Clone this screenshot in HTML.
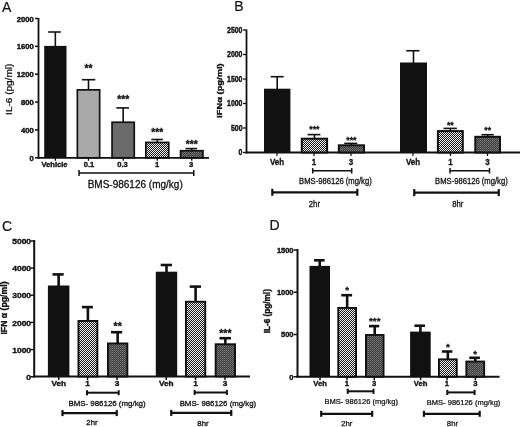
<!DOCTYPE html>
<html><head><meta charset="utf-8"><title>Figure</title>
<style>
html,body{margin:0;padding:0;background:#fff;}
body{width:520px;height:427px;overflow:hidden;}
svg{display:block;will-change:transform;}
svg text{font-family:"Liberation Sans",sans-serif;fill:#111;}
</style></head>
<body>
<svg width="520" height="427" viewBox="0 0 520 427">
<defs>
<pattern id="ch" width="2" height="2" patternUnits="userSpaceOnUse" shape-rendering="crispEdges">
<rect width="2" height="2" fill="#161616"/>
<rect width="1" height="1" fill="#f6f6f6"/>
<rect x="1" y="1" width="1" height="1" fill="#f6f6f6"/>
</pattern>
<pattern id="fn" width="2" height="2" patternUnits="userSpaceOnUse" shape-rendering="crispEdges">
<rect width="2" height="2" fill="#3e3e3e"/>
<rect width="1" height="1" fill="#7a7a7a"/>
<rect x="1" y="1" width="1" height="1" fill="#646464"/>
</pattern>
</defs>
<rect width="520" height="427" fill="#fff"/>
<text x="2" y="11.5" font-size="14" font-weight="normal" text-anchor="start" stroke="#111" stroke-width="0.2" stroke-linejoin="round">A</text>
<line x1="38.5" y1="18" x2="38.5" y2="158.70000000000002" stroke="#111" stroke-width="1.8"/>
<line x1="37.6" y1="157.8" x2="209" y2="157.8" stroke="#111" stroke-width="1.8"/>
<line x1="35.0" y1="18.5" x2="38.5" y2="18.5" stroke="#111" stroke-width="1.5"/>
<text x="0" y="0" font-size="7.1" font-weight="bold" text-anchor="end" transform="translate(33.7 21.5) scale(1.08 1)" stroke="#111" stroke-width="0.4" stroke-linejoin="round">2000</text>
<line x1="35.0" y1="46.36" x2="38.5" y2="46.36" stroke="#111" stroke-width="1.5"/>
<text x="0" y="0" font-size="7.1" font-weight="bold" text-anchor="end" transform="translate(33.7 49.36) scale(1.08 1)" stroke="#111" stroke-width="0.4" stroke-linejoin="round">1600</text>
<line x1="35.0" y1="74.22" x2="38.5" y2="74.22" stroke="#111" stroke-width="1.5"/>
<text x="0" y="0" font-size="7.1" font-weight="bold" text-anchor="end" transform="translate(33.7 77.22) scale(1.08 1)" stroke="#111" stroke-width="0.4" stroke-linejoin="round">1200</text>
<line x1="35.0" y1="102.08000000000001" x2="38.5" y2="102.08000000000001" stroke="#111" stroke-width="1.5"/>
<text x="0" y="0" font-size="7.1" font-weight="bold" text-anchor="end" transform="translate(33.7 105.08000000000001) scale(1.08 1)" stroke="#111" stroke-width="0.4" stroke-linejoin="round">800</text>
<line x1="35.0" y1="129.94" x2="38.5" y2="129.94" stroke="#111" stroke-width="1.5"/>
<text x="0" y="0" font-size="7.1" font-weight="bold" text-anchor="end" transform="translate(33.7 132.94) scale(1.08 1)" stroke="#111" stroke-width="0.4" stroke-linejoin="round">400</text>
<line x1="35.0" y1="157.8" x2="38.5" y2="157.8" stroke="#111" stroke-width="1.5"/>
<text x="0" y="0" font-size="7.1" font-weight="bold" text-anchor="end" transform="translate(33.7 160.8) scale(1.08 1)" stroke="#111" stroke-width="0.4" stroke-linejoin="round">0</text>
<text x="0" y="0" font-size="9.2" font-weight="normal" text-anchor="middle" transform="translate(12.0 89.3) rotate(-90) scale(1.09 1)" stroke="#111" stroke-width="0.25" stroke-linejoin="round">IL-6 (pg/ml)</text>
<line x1="55.35" y1="32" x2="55.35" y2="46.9" stroke="#111" stroke-width="1.6"/>
<line x1="48.2" y1="32" x2="60.8" y2="32" stroke="#111" stroke-width="1.6"/>
<rect x="44.20" y="45.90" width="22.30" height="111.90" fill="#111"/>
<line x1="55.35" y1="157.8" x2="55.35" y2="160.8" stroke="#111" stroke-width="1.3"/>
<line x1="88.5" y1="79.7" x2="88.5" y2="90" stroke="#111" stroke-width="1.6"/>
<line x1="81.8" y1="79.7" x2="95.3" y2="79.7" stroke="#111" stroke-width="1.6"/>
<rect x="77.35" y="89.85" width="22.30" height="67.95" fill="#a9a9a9" stroke="#111" stroke-width="1.7"/>
<text x="88.5" y="71.6075" font-size="10.3" font-weight="bold" text-anchor="middle" stroke="#111" stroke-width="0.3" stroke-linejoin="round">**</text>
<line x1="88.5" y1="157.8" x2="88.5" y2="160.8" stroke="#111" stroke-width="1.3"/>
<line x1="123.15" y1="107.9" x2="123.15" y2="122.4" stroke="#111" stroke-width="1.6"/>
<line x1="116.3" y1="107.9" x2="129" y2="107.9" stroke="#111" stroke-width="1.6"/>
<rect x="112.05" y="122.25" width="22.20" height="35.55" fill="#6b6b6b" stroke="#111" stroke-width="1.7"/>
<text x="123.15" y="102.9075" font-size="10.3" font-weight="bold" text-anchor="middle" stroke="#111" stroke-width="0.3" stroke-linejoin="round">***</text>
<line x1="123.15" y1="157.8" x2="123.15" y2="160.8" stroke="#111" stroke-width="1.3"/>
<line x1="157.3" y1="139.5" x2="157.3" y2="142.6" stroke="#111" stroke-width="1.6"/>
<line x1="151.3" y1="139.5" x2="162.8" y2="139.5" stroke="#111" stroke-width="1.6"/>
<rect x="145.85" y="142.45" width="22.90" height="15.35" fill="url(#ch)" stroke="#111" stroke-width="1.7"/>
<text x="157.3" y="136.2075" font-size="10.3" font-weight="bold" text-anchor="middle" stroke="#111" stroke-width="0.3" stroke-linejoin="round">***</text>
<line x1="157.3" y1="157.8" x2="157.3" y2="160.8" stroke="#111" stroke-width="1.3"/>
<line x1="191.75" y1="148.6" x2="191.75" y2="150.9" stroke="#111" stroke-width="1.6"/>
<line x1="185.5" y1="148.6" x2="197" y2="148.6" stroke="#111" stroke-width="1.6"/>
<rect x="180.55" y="150.75" width="22.40" height="7.05" fill="url(#fn)" stroke="#111" stroke-width="1.7"/>
<text x="191.75" y="148.1075" font-size="10.3" font-weight="bold" text-anchor="middle" stroke="#111" stroke-width="0.3" stroke-linejoin="round">***</text>
<line x1="191.75" y1="157.8" x2="191.75" y2="160.8" stroke="#111" stroke-width="1.3"/>
<text x="54.5" y="167.4" font-size="7.6" font-weight="bold" text-anchor="middle" stroke="#111" stroke-width="0.35" stroke-linejoin="round">Vehicle</text>
<text x="89" y="167.4" font-size="7.6" font-weight="bold" text-anchor="middle" stroke="#111" stroke-width="0.35" stroke-linejoin="round">0.1</text>
<text x="122.5" y="167.4" font-size="7.6" font-weight="bold" text-anchor="middle" stroke="#111" stroke-width="0.35" stroke-linejoin="round">0.3</text>
<text x="157" y="167.4" font-size="7.6" font-weight="bold" text-anchor="middle" stroke="#111" stroke-width="0.35" stroke-linejoin="round">1</text>
<text x="191" y="167.4" font-size="7.6" font-weight="bold" text-anchor="middle" stroke="#111" stroke-width="0.35" stroke-linejoin="round">3</text>
<line x1="79" y1="173.1" x2="193.75" y2="173.1" stroke="#111" stroke-width="1.5"/>
<line x1="79" y1="170.1" x2="79" y2="176.1" stroke="#111" stroke-width="1.5"/>
<line x1="193.75" y1="170.1" x2="193.75" y2="176.1" stroke="#111" stroke-width="1.5"/>
<text x="135.2" y="187.6" font-size="10" font-weight="normal" text-anchor="middle" stroke="#111" stroke-width="0.3" stroke-linejoin="round">BMS-986126 (mg/kg)</text>
<text x="234.3" y="10.8" font-size="14" font-weight="normal" text-anchor="start" stroke="#111" stroke-width="0.2" stroke-linejoin="round">B</text>
<line x1="246.5" y1="29.5" x2="246.5" y2="153.4" stroke="#111" stroke-width="1.8"/>
<line x1="245.6" y1="152.5" x2="520" y2="152.5" stroke="#111" stroke-width="1.8"/>
<line x1="243.0" y1="30.0" x2="246.5" y2="30.0" stroke="#111" stroke-width="1.3"/>
<text x="0" y="0" font-size="8.2" font-weight="bold" text-anchor="end" transform="translate(242.5 32.9) scale(0.85 1)" stroke="#111" stroke-width="0.4" stroke-linejoin="round">2500</text>
<line x1="243.0" y1="54.5" x2="246.5" y2="54.5" stroke="#111" stroke-width="1.3"/>
<text x="0" y="0" font-size="8.2" font-weight="bold" text-anchor="end" transform="translate(242.5 57.4) scale(0.85 1)" stroke="#111" stroke-width="0.4" stroke-linejoin="round">2000</text>
<line x1="243.0" y1="79.0" x2="246.5" y2="79.0" stroke="#111" stroke-width="1.3"/>
<text x="0" y="0" font-size="8.2" font-weight="bold" text-anchor="end" transform="translate(242.5 81.9) scale(0.85 1)" stroke="#111" stroke-width="0.4" stroke-linejoin="round">1500</text>
<line x1="243.0" y1="103.5" x2="246.5" y2="103.5" stroke="#111" stroke-width="1.3"/>
<text x="0" y="0" font-size="8.2" font-weight="bold" text-anchor="end" transform="translate(242.5 106.4) scale(0.85 1)" stroke="#111" stroke-width="0.4" stroke-linejoin="round">1000</text>
<line x1="243.0" y1="128.0" x2="246.5" y2="128.0" stroke="#111" stroke-width="1.3"/>
<text x="0" y="0" font-size="8.2" font-weight="bold" text-anchor="end" transform="translate(242.5 130.9) scale(0.85 1)" stroke="#111" stroke-width="0.4" stroke-linejoin="round">500</text>
<line x1="243.0" y1="152.5" x2="246.5" y2="152.5" stroke="#111" stroke-width="1.3"/>
<text x="0" y="0" font-size="8.2" font-weight="bold" text-anchor="end" transform="translate(242.5 155.4) scale(0.85 1)" stroke="#111" stroke-width="0.4" stroke-linejoin="round">0</text>
<text x="0" y="0" font-size="7.8" font-weight="bold" text-anchor="middle" transform="translate(222.2 90.6) rotate(-90) scale(1.2 1)" stroke="#111" stroke-width="0.35" stroke-linejoin="round">IFN&#945; (pg/ml)</text>
<line x1="277.2" y1="76.7" x2="277.2" y2="89.7" stroke="#111" stroke-width="1.6"/>
<line x1="270.7" y1="76.7" x2="283.7" y2="76.7" stroke="#111" stroke-width="1.6"/>
<rect x="264.00" y="88.70" width="26.40" height="63.80" fill="#111"/>
<line x1="314.45000000000005" y1="134.6" x2="314.45000000000005" y2="138.7" stroke="#111" stroke-width="1.6"/>
<line x1="307.6" y1="134.6" x2="320.4" y2="134.6" stroke="#111" stroke-width="1.6"/>
<rect x="301.80" y="138.70" width="25.30" height="13.80" fill="url(#ch)" stroke="#111" stroke-width="2"/>
<text x="314.45000000000005" y="132.2675" font-size="8.7" font-weight="bold" text-anchor="middle" stroke="#111" stroke-width="0.3" stroke-linejoin="round">***</text>
<line x1="351.4" y1="143.4" x2="351.4" y2="145.3" stroke="#111" stroke-width="1.6"/>
<line x1="344.2" y1="143.4" x2="357.3" y2="143.4" stroke="#111" stroke-width="1.6"/>
<rect x="338.80" y="145.30" width="25.20" height="7.20" fill="url(#fn)" stroke="#111" stroke-width="2"/>
<text x="351.4" y="143.0675" font-size="8.7" font-weight="bold" text-anchor="middle" stroke="#111" stroke-width="0.3" stroke-linejoin="round">***</text>
<line x1="413.5" y1="50.75" x2="413.5" y2="63.5" stroke="#111" stroke-width="1.6"/>
<line x1="406.25" y1="50.75" x2="419.5" y2="50.75" stroke="#111" stroke-width="1.6"/>
<rect x="400.00" y="62.50" width="27.00" height="90.00" fill="#111"/>
<line x1="450.35" y1="128.4" x2="450.35" y2="131.1" stroke="#111" stroke-width="1.6"/>
<line x1="443.5" y1="128.4" x2="456.9" y2="128.4" stroke="#111" stroke-width="1.6"/>
<rect x="437.90" y="131.10" width="24.90" height="21.40" fill="url(#ch)" stroke="#111" stroke-width="2"/>
<text x="450.35" y="128.4675" font-size="8.7" font-weight="bold" text-anchor="middle" stroke="#111" stroke-width="0.3" stroke-linejoin="round">**</text>
<line x1="487.65" y1="134.7" x2="487.65" y2="136.8" stroke="#111" stroke-width="1.6"/>
<line x1="481.5" y1="134.7" x2="493.8" y2="134.7" stroke="#111" stroke-width="1.6"/>
<rect x="475.30" y="136.80" width="24.70" height="15.70" fill="url(#fn)" stroke="#111" stroke-width="2"/>
<text x="487.65" y="132.5675" font-size="8.7" font-weight="bold" text-anchor="middle" stroke="#111" stroke-width="0.3" stroke-linejoin="round">**</text>
<line x1="277" y1="152.5" x2="277" y2="156.0" stroke="#111" stroke-width="1.2"/>
<text x="0" y="0" font-size="9" font-weight="bold" text-anchor="middle" transform="translate(277 164.5) scale(0.89 1)" stroke="#111" stroke-width="0.3" stroke-linejoin="round">Veh</text>
<line x1="314" y1="152.5" x2="314" y2="156.0" stroke="#111" stroke-width="1.2"/>
<text x="0" y="0" font-size="9" font-weight="bold" text-anchor="middle" transform="translate(314 164.5) scale(0.89 1)" stroke="#111" stroke-width="0.3" stroke-linejoin="round">1</text>
<line x1="351" y1="152.5" x2="351" y2="156.0" stroke="#111" stroke-width="1.2"/>
<text x="0" y="0" font-size="9" font-weight="bold" text-anchor="middle" transform="translate(351 164.5) scale(0.89 1)" stroke="#111" stroke-width="0.3" stroke-linejoin="round">3</text>
<line x1="413" y1="152.5" x2="413" y2="156.0" stroke="#111" stroke-width="1.2"/>
<text x="0" y="0" font-size="9" font-weight="bold" text-anchor="middle" transform="translate(413 164.5) scale(0.89 1)" stroke="#111" stroke-width="0.3" stroke-linejoin="round">Veh</text>
<line x1="450.5" y1="152.5" x2="450.5" y2="156.0" stroke="#111" stroke-width="1.2"/>
<text x="0" y="0" font-size="9" font-weight="bold" text-anchor="middle" transform="translate(450.5 164.5) scale(0.89 1)" stroke="#111" stroke-width="0.3" stroke-linejoin="round">1</text>
<line x1="487.5" y1="152.5" x2="487.5" y2="156.0" stroke="#111" stroke-width="1.2"/>
<text x="0" y="0" font-size="9" font-weight="bold" text-anchor="middle" transform="translate(487.5 164.5) scale(0.89 1)" stroke="#111" stroke-width="0.3" stroke-linejoin="round">3</text>
<line x1="312.7" y1="170.8" x2="351.7" y2="170.8" stroke="#111" stroke-width="1.5"/>
<line x1="312.7" y1="168.10000000000002" x2="312.7" y2="173.5" stroke="#111" stroke-width="1.5"/>
<line x1="351.7" y1="168.10000000000002" x2="351.7" y2="173.5" stroke="#111" stroke-width="1.5"/>
<line x1="450" y1="170.8" x2="489.5" y2="170.8" stroke="#111" stroke-width="1.5"/>
<line x1="450" y1="168.10000000000002" x2="450" y2="173.5" stroke="#111" stroke-width="1.5"/>
<line x1="489.5" y1="168.10000000000002" x2="489.5" y2="173.5" stroke="#111" stroke-width="1.5"/>
<text x="0" y="0" font-size="8.6" font-weight="normal" text-anchor="middle" transform="translate(335.4 183.5) scale(0.89 1)" stroke="#111" stroke-width="0.3" stroke-linejoin="round">BMS-986126 (mg/kg)</text>
<text x="0" y="0" font-size="8.6" font-weight="normal" text-anchor="middle" transform="translate(471.4 183.5) scale(0.89 1)" stroke="#111" stroke-width="0.3" stroke-linejoin="round">BMS-986126 (mg/kg)</text>
<line x1="272.3" y1="192.3" x2="357.3" y2="192.3" stroke="#111" stroke-width="2.2"/>
<line x1="272.3" y1="188.8" x2="272.3" y2="195.8" stroke="#111" stroke-width="2.2"/>
<line x1="357.3" y1="188.8" x2="357.3" y2="195.8" stroke="#111" stroke-width="2.2"/>
<line x1="414.25" y1="192.6" x2="498.75" y2="192.6" stroke="#111" stroke-width="2.2"/>
<line x1="414.25" y1="189.1" x2="414.25" y2="196.1" stroke="#111" stroke-width="2.2"/>
<line x1="498.75" y1="189.1" x2="498.75" y2="196.1" stroke="#111" stroke-width="2.2"/>
<text x="0" y="0" font-size="8.6" font-weight="normal" text-anchor="middle" transform="translate(314.4 207.2) scale(0.9 1)" stroke="#111" stroke-width="0.3" stroke-linejoin="round">2hr</text>
<text x="0" y="0" font-size="8.6" font-weight="normal" text-anchor="middle" transform="translate(457.8 207.4) scale(0.9 1)" stroke="#111" stroke-width="0.3" stroke-linejoin="round">8hr</text>
<text x="2" y="231" font-size="14" font-weight="normal" text-anchor="start" stroke="#111" stroke-width="0.2" stroke-linejoin="round">C</text>
<line x1="34.2" y1="240" x2="34.2" y2="377.5" stroke="#111" stroke-width="2"/>
<line x1="33.2" y1="376.5" x2="250" y2="376.5" stroke="#111" stroke-width="2"/>
<line x1="30.200000000000003" y1="241.0" x2="34.2" y2="241.0" stroke="#111" stroke-width="1.5"/>
<text x="0" y="0" font-size="7.6" font-weight="bold" text-anchor="end" transform="translate(31.1 244.1) scale(1.12 1)" stroke="#111" stroke-width="0.35" stroke-linejoin="round">5000</text>
<line x1="30.200000000000003" y1="268.15" x2="34.2" y2="268.15" stroke="#111" stroke-width="1.5"/>
<text x="0" y="0" font-size="7.6" font-weight="bold" text-anchor="end" transform="translate(31.1 271.25) scale(1.12 1)" stroke="#111" stroke-width="0.35" stroke-linejoin="round">4000</text>
<line x1="30.200000000000003" y1="295.3" x2="34.2" y2="295.3" stroke="#111" stroke-width="1.5"/>
<text x="0" y="0" font-size="7.6" font-weight="bold" text-anchor="end" transform="translate(31.1 298.40000000000003) scale(1.12 1)" stroke="#111" stroke-width="0.35" stroke-linejoin="round">3000</text>
<line x1="30.200000000000003" y1="322.45" x2="34.2" y2="322.45" stroke="#111" stroke-width="1.5"/>
<text x="0" y="0" font-size="7.6" font-weight="bold" text-anchor="end" transform="translate(31.1 325.55) scale(1.12 1)" stroke="#111" stroke-width="0.35" stroke-linejoin="round">2000</text>
<line x1="30.200000000000003" y1="349.6" x2="34.2" y2="349.6" stroke="#111" stroke-width="1.5"/>
<text x="0" y="0" font-size="7.6" font-weight="bold" text-anchor="end" transform="translate(31.1 352.70000000000005) scale(1.12 1)" stroke="#111" stroke-width="0.35" stroke-linejoin="round">1000</text>
<line x1="30.200000000000003" y1="376.75" x2="34.2" y2="376.75" stroke="#111" stroke-width="1.5"/>
<text x="0" y="0" font-size="7.6" font-weight="bold" text-anchor="end" transform="translate(31.1 379.85) scale(1.12 1)" stroke="#111" stroke-width="0.35" stroke-linejoin="round">0</text>
<text x="0" y="0" font-size="8.7" font-weight="bold" text-anchor="middle" transform="translate(6.6 308) rotate(-90)" stroke="#111" stroke-width="0.35" stroke-linejoin="round">IFN &#945; (pg/ml)</text>
<line x1="58.650000000000006" y1="274.4" x2="58.650000000000006" y2="286.5" stroke="#111" stroke-width="2.6"/>
<line x1="52.5" y1="274.4" x2="63.7" y2="274.4" stroke="#111" stroke-width="2.6"/>
<rect x="47.90" y="285.50" width="21.50" height="91.00" fill="#111"/>
<line x1="87.9" y1="307.1" x2="87.9" y2="321" stroke="#111" stroke-width="2.6"/>
<line x1="81.9" y1="307.1" x2="92.9" y2="307.1" stroke="#111" stroke-width="2.6"/>
<rect x="78.45" y="320.95" width="18.90" height="55.55" fill="url(#ch)" stroke="#111" stroke-width="1.9"/>
<line x1="117.65" y1="332.2" x2="117.65" y2="343.5" stroke="#111" stroke-width="2.6"/>
<line x1="111" y1="332.2" x2="122.2" y2="332.2" stroke="#111" stroke-width="2.6"/>
<rect x="107.95" y="343.45" width="19.40" height="33.05" fill="url(#fn)" stroke="#111" stroke-width="1.9"/>
<text x="117.65" y="330.2125" font-size="10.5" font-weight="bold" text-anchor="middle" stroke="#111" stroke-width="0.3" stroke-linejoin="round">**</text>
<line x1="166.5" y1="265" x2="166.5" y2="272.7" stroke="#111" stroke-width="2.6"/>
<line x1="160.7" y1="265" x2="172" y2="265" stroke="#111" stroke-width="2.6"/>
<rect x="155.80" y="271.70" width="21.40" height="104.80" fill="#111"/>
<line x1="195.6" y1="286.6" x2="195.6" y2="301.8" stroke="#111" stroke-width="2.6"/>
<line x1="189.7" y1="286.6" x2="201" y2="286.6" stroke="#111" stroke-width="2.6"/>
<rect x="185.95" y="301.75" width="19.30" height="74.75" fill="url(#ch)" stroke="#111" stroke-width="1.9"/>
<line x1="225.35" y1="338.2" x2="225.35" y2="344.3" stroke="#111" stroke-width="2.6"/>
<line x1="219.5" y1="338.2" x2="231" y2="338.2" stroke="#111" stroke-width="2.6"/>
<rect x="215.65" y="344.25" width="19.40" height="32.25" fill="url(#fn)" stroke="#111" stroke-width="1.9"/>
<text x="225.35" y="337.3125" font-size="10.5" font-weight="bold" text-anchor="middle" stroke="#111" stroke-width="0.3" stroke-linejoin="round">***</text>
<line x1="58.75" y1="376.5" x2="58.75" y2="380.0" stroke="#111" stroke-width="1.5"/>
<text x="0" y="0" font-size="7.8" font-weight="bold" text-anchor="middle" transform="translate(58.75 386.2) scale(1.06 1)" stroke="#111" stroke-width="0.35" stroke-linejoin="round">Veh</text>
<line x1="87.5" y1="376.5" x2="87.5" y2="380.0" stroke="#111" stroke-width="1.5"/>
<text x="0" y="0" font-size="7.8" font-weight="bold" text-anchor="middle" transform="translate(87.5 386.2) scale(1.06 1)" stroke="#111" stroke-width="0.35" stroke-linejoin="round">1</text>
<line x1="117" y1="376.5" x2="117" y2="380.0" stroke="#111" stroke-width="1.5"/>
<text x="0" y="0" font-size="7.8" font-weight="bold" text-anchor="middle" transform="translate(117 386.2) scale(1.06 1)" stroke="#111" stroke-width="0.35" stroke-linejoin="round">3</text>
<line x1="166.25" y1="376.5" x2="166.25" y2="380.0" stroke="#111" stroke-width="1.5"/>
<text x="0" y="0" font-size="7.8" font-weight="bold" text-anchor="middle" transform="translate(166.25 386.2) scale(1.06 1)" stroke="#111" stroke-width="0.35" stroke-linejoin="round">Veh</text>
<line x1="195.5" y1="376.5" x2="195.5" y2="380.0" stroke="#111" stroke-width="1.5"/>
<text x="0" y="0" font-size="7.8" font-weight="bold" text-anchor="middle" transform="translate(195.5 386.2) scale(1.06 1)" stroke="#111" stroke-width="0.35" stroke-linejoin="round">1</text>
<line x1="225" y1="376.5" x2="225" y2="380.0" stroke="#111" stroke-width="1.5"/>
<text x="0" y="0" font-size="7.8" font-weight="bold" text-anchor="middle" transform="translate(225 386.2) scale(1.06 1)" stroke="#111" stroke-width="0.35" stroke-linejoin="round">3</text>
<line x1="87" y1="392.7" x2="118.7" y2="392.7" stroke="#111" stroke-width="2.0"/>
<line x1="87" y1="390.2" x2="87" y2="395.2" stroke="#111" stroke-width="2.0"/>
<line x1="118.7" y1="390.2" x2="118.7" y2="395.2" stroke="#111" stroke-width="2.0"/>
<line x1="194.6" y1="392.4" x2="226.9" y2="392.4" stroke="#111" stroke-width="2.0"/>
<line x1="194.6" y1="389.9" x2="194.6" y2="394.9" stroke="#111" stroke-width="2.0"/>
<line x1="226.9" y1="389.9" x2="226.9" y2="394.9" stroke="#111" stroke-width="2.0"/>
<text x="107" y="405.9" font-size="7.9" font-weight="normal" text-anchor="middle" stroke="#111" stroke-width="0.3" stroke-linejoin="round">BMS- 986126 (mg/kg)</text>
<text x="0" y="0" font-size="7.9" font-weight="normal" text-anchor="middle" transform="translate(217.9 406) scale(0.99 1)" stroke="#111" stroke-width="0.3" stroke-linejoin="round">BMS- 986126 (mg/kg)</text>
<line x1="62.5" y1="413.1" x2="116.75" y2="413.1" stroke="#111" stroke-width="2.2"/>
<line x1="62.5" y1="410.1" x2="62.5" y2="416.1" stroke="#111" stroke-width="2.2"/>
<line x1="116.75" y1="410.1" x2="116.75" y2="416.1" stroke="#111" stroke-width="2.2"/>
<line x1="171.25" y1="412.9" x2="231.25" y2="412.9" stroke="#111" stroke-width="2.2"/>
<line x1="171.25" y1="409.9" x2="171.25" y2="415.9" stroke="#111" stroke-width="2.2"/>
<line x1="231.25" y1="409.9" x2="231.25" y2="415.9" stroke="#111" stroke-width="2.2"/>
<text x="92" y="425.3" font-size="7.8" font-weight="normal" text-anchor="middle" stroke="#111" stroke-width="0.3" stroke-linejoin="round">2hr</text>
<text x="203" y="425.8" font-size="7.8" font-weight="normal" text-anchor="middle" stroke="#111" stroke-width="0.3" stroke-linejoin="round">8hr</text>
<text x="269.6" y="230.2" font-size="14" font-weight="normal" text-anchor="start" stroke="#111" stroke-width="0.2" stroke-linejoin="round">D</text>
<line x1="297.5" y1="249" x2="297.5" y2="377.75" stroke="#111" stroke-width="2"/>
<line x1="296.5" y1="376.75" x2="499.5" y2="376.75" stroke="#111" stroke-width="2"/>
<line x1="293.5" y1="250.0" x2="297.5" y2="250.0" stroke="#111" stroke-width="1.5"/>
<text x="0" y="0" font-size="7.8" font-weight="bold" text-anchor="end" transform="translate(293.5 252.9) scale(0.96 1)" stroke="#111" stroke-width="0.4" stroke-linejoin="round">1500</text>
<line x1="293.5" y1="292.25" x2="297.5" y2="292.25" stroke="#111" stroke-width="1.5"/>
<text x="0" y="0" font-size="7.8" font-weight="bold" text-anchor="end" transform="translate(293.5 295.15) scale(0.96 1)" stroke="#111" stroke-width="0.4" stroke-linejoin="round">1000</text>
<line x1="293.5" y1="334.5" x2="297.5" y2="334.5" stroke="#111" stroke-width="1.5"/>
<text x="0" y="0" font-size="7.8" font-weight="bold" text-anchor="end" transform="translate(293.5 337.4) scale(0.96 1)" stroke="#111" stroke-width="0.4" stroke-linejoin="round">500</text>
<line x1="293.5" y1="376.75" x2="297.5" y2="376.75" stroke="#111" stroke-width="1.5"/>
<text x="0" y="0" font-size="7.8" font-weight="bold" text-anchor="end" transform="translate(293.5 379.65) scale(0.96 1)" stroke="#111" stroke-width="0.4" stroke-linejoin="round">0</text>
<text x="0" y="0" font-size="8.2" font-weight="bold" text-anchor="middle" transform="translate(269.5 311.2) rotate(-90)" stroke="#111" stroke-width="0.35" stroke-linejoin="round">IL-6 (pg/ml)</text>
<line x1="319.75" y1="260.3" x2="319.75" y2="266.9" stroke="#111" stroke-width="2.6"/>
<line x1="314" y1="260.3" x2="324.6" y2="260.3" stroke="#111" stroke-width="2.6"/>
<rect x="309.50" y="265.90" width="20.50" height="110.85" fill="#111"/>
<line x1="347.15" y1="295.2" x2="347.15" y2="308" stroke="#111" stroke-width="2.6"/>
<line x1="341.25" y1="295.2" x2="352.1" y2="295.2" stroke="#111" stroke-width="2.6"/>
<rect x="338.25" y="307.95" width="17.80" height="68.80" fill="url(#ch)" stroke="#111" stroke-width="1.9"/>
<text x="347.15" y="293.34499999999997" font-size="9.8" font-weight="bold" text-anchor="middle" stroke="#111" stroke-width="0.3" stroke-linejoin="round">*</text>
<line x1="374.75" y1="326.1" x2="374.75" y2="335" stroke="#111" stroke-width="2.6"/>
<line x1="369" y1="326.1" x2="379.2" y2="326.1" stroke="#111" stroke-width="2.6"/>
<rect x="365.95" y="334.95" width="17.60" height="41.80" fill="url(#fn)" stroke="#111" stroke-width="1.9"/>
<text x="374.75" y="324.245" font-size="9.8" font-weight="bold" text-anchor="middle" stroke="#111" stroke-width="0.3" stroke-linejoin="round">***</text>
<line x1="420.4" y1="325.7" x2="420.4" y2="332.6" stroke="#111" stroke-width="2.6"/>
<line x1="414.4" y1="325.7" x2="425" y2="325.7" stroke="#111" stroke-width="2.6"/>
<rect x="410.10" y="331.60" width="20.60" height="45.15" fill="#111"/>
<line x1="447.85" y1="351.5" x2="447.85" y2="359.4" stroke="#111" stroke-width="2.6"/>
<line x1="441.9" y1="351.5" x2="452.4" y2="351.5" stroke="#111" stroke-width="2.6"/>
<rect x="438.95" y="359.35" width="17.80" height="17.40" fill="url(#ch)" stroke="#111" stroke-width="1.9"/>
<text x="447.85" y="349.54499999999996" font-size="9.8" font-weight="bold" text-anchor="middle" stroke="#111" stroke-width="0.3" stroke-linejoin="round">*</text>
<line x1="475.25" y1="357.8" x2="475.25" y2="361.6" stroke="#111" stroke-width="2.6"/>
<line x1="469.3" y1="357.8" x2="479.9" y2="357.8" stroke="#111" stroke-width="2.6"/>
<rect x="466.35" y="361.55" width="17.80" height="15.20" fill="url(#fn)" stroke="#111" stroke-width="1.9"/>
<text x="475.25" y="357.145" font-size="9.8" font-weight="bold" text-anchor="middle" stroke="#111" stroke-width="0.3" stroke-linejoin="round">*</text>
<line x1="320" y1="376.75" x2="320" y2="380.25" stroke="#111" stroke-width="1.5"/>
<text x="0" y="0" font-size="7.5" font-weight="bold" text-anchor="middle" transform="translate(320 385.7) scale(1.02 1)" stroke="#111" stroke-width="0.35" stroke-linejoin="round">Veh</text>
<line x1="347" y1="376.75" x2="347" y2="380.25" stroke="#111" stroke-width="1.5"/>
<text x="0" y="0" font-size="7.5" font-weight="bold" text-anchor="middle" transform="translate(347 385.7) scale(1.02 1)" stroke="#111" stroke-width="0.35" stroke-linejoin="round">1</text>
<line x1="374.25" y1="376.75" x2="374.25" y2="380.25" stroke="#111" stroke-width="1.5"/>
<text x="0" y="0" font-size="7.5" font-weight="bold" text-anchor="middle" transform="translate(374.25 385.7) scale(1.02 1)" stroke="#111" stroke-width="0.35" stroke-linejoin="round">3</text>
<line x1="420.6" y1="376.75" x2="420.6" y2="380.25" stroke="#111" stroke-width="1.5"/>
<text x="0" y="0" font-size="7.5" font-weight="bold" text-anchor="middle" transform="translate(420.6 385.7) scale(1.02 1)" stroke="#111" stroke-width="0.35" stroke-linejoin="round">Veh</text>
<line x1="447" y1="376.75" x2="447" y2="380.25" stroke="#111" stroke-width="1.5"/>
<text x="0" y="0" font-size="7.5" font-weight="bold" text-anchor="middle" transform="translate(447 385.7) scale(1.02 1)" stroke="#111" stroke-width="0.35" stroke-linejoin="round">1</text>
<line x1="475.4" y1="376.75" x2="475.4" y2="380.25" stroke="#111" stroke-width="1.5"/>
<text x="0" y="0" font-size="7.5" font-weight="bold" text-anchor="middle" transform="translate(475.4 385.7) scale(1.02 1)" stroke="#111" stroke-width="0.35" stroke-linejoin="round">3</text>
<line x1="347.7" y1="391.3" x2="373.5" y2="391.3" stroke="#111" stroke-width="2.0"/>
<line x1="347.7" y1="388.7" x2="347.7" y2="393.90000000000003" stroke="#111" stroke-width="2.0"/>
<line x1="373.5" y1="388.7" x2="373.5" y2="393.90000000000003" stroke="#111" stroke-width="2.0"/>
<line x1="447.3" y1="392.4" x2="474.6" y2="392.4" stroke="#111" stroke-width="2.0"/>
<line x1="447.3" y1="389.79999999999995" x2="447.3" y2="395.0" stroke="#111" stroke-width="2.0"/>
<line x1="474.6" y1="389.79999999999995" x2="474.6" y2="395.0" stroke="#111" stroke-width="2.0"/>
<text x="0" y="0" font-size="7.8" font-weight="normal" text-anchor="middle" transform="translate(361.2 404.2) scale(0.965 1)" stroke="#111" stroke-width="0.25" stroke-linejoin="round">BMS- 986126 (mg/kg)</text>
<text x="0" y="0" font-size="7.8" font-weight="normal" text-anchor="middle" transform="translate(463.6 404.5) scale(0.965 1)" stroke="#111" stroke-width="0.25" stroke-linejoin="round">BMS- 986126 (mg/kg)</text>
<line x1="321.2" y1="413.8" x2="372.2" y2="413.8" stroke="#111" stroke-width="2.2"/>
<line x1="321.2" y1="410.8" x2="321.2" y2="416.8" stroke="#111" stroke-width="2.2"/>
<line x1="372.2" y1="410.8" x2="372.2" y2="416.8" stroke="#111" stroke-width="2.2"/>
<line x1="423.9" y1="413.8" x2="479.7" y2="413.8" stroke="#111" stroke-width="2.2"/>
<line x1="423.9" y1="410.8" x2="423.9" y2="416.8" stroke="#111" stroke-width="2.2"/>
<line x1="479.7" y1="410.8" x2="479.7" y2="416.8" stroke="#111" stroke-width="2.2"/>
<text x="346.8" y="425.6" font-size="7.8" font-weight="normal" text-anchor="middle" stroke="#111" stroke-width="0.25" stroke-linejoin="round">2hr</text>
<text x="452.5" y="426" font-size="7.8" font-weight="normal" text-anchor="middle" stroke="#111" stroke-width="0.25" stroke-linejoin="round">8hr</text>
</svg>
</body></html>
